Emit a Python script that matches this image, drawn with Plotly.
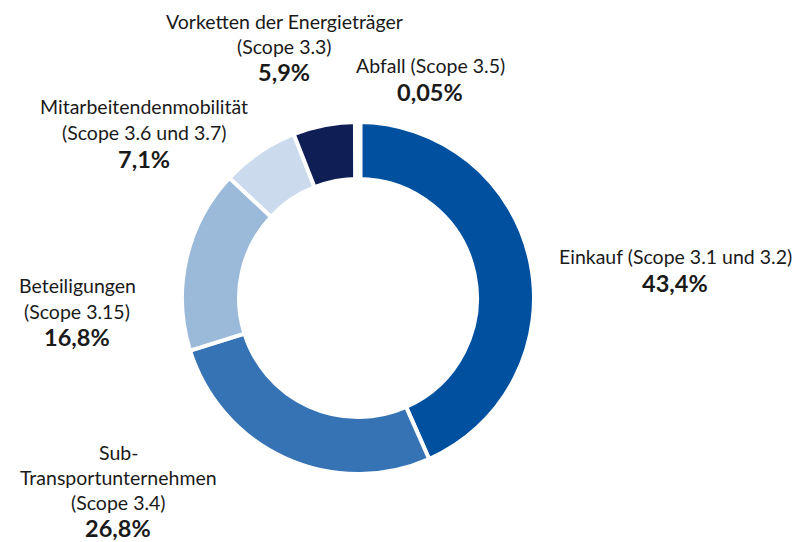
import plotly.graph_objects as go

categories = ["Einkauf", "Sub-Transportunternehmen", "Beteiligungen",
              "Mitarbeitendenmobilität", "Vorketten der Energieträger", "Abfall"]
values = [43.4, 26.8, 16.8, 7.1, 5.9, 0.05]
name_lines = [
    ["Einkauf (Scope 3.1 und 3.2)"],
    ["Sub-", "Transportunternehmen", "(Scope 3.4)"],
    ["Beteiligungen", "(Scope 3.15)"],
    ["Mitarbeitendenmobilität", "(Scope 3.6 und 3.7)"],
    ["Vorketten der Energieträger", "(Scope 3.3)"],
    ["Abfall (Scope 3.5)"],
]
colors = ["#0050a0", "#3573b5", "#9bbad9", "#cbdbed", "#0f1f56", "#6f8fbf"]

W, H = 802, 542
# label block positions (pixel center x, first-line y, line spacing)
label_pos = [
    (675, 256, 27),
    (118, 452, 25.2),
    (77, 285, 26),
    (144, 106, 26.5),
    (284, 21, 25.5),
    (430, 65, 26.5),
]

fig = go.Figure()
fig.add_trace(go.Pie(
    labels=categories,
    values=values,
    sort=False,
    direction="clockwise",
    rotation=0,
    hole=0.676,
    marker=dict(colors=colors, line=dict(color="white", width=[4, 4, 4, 4, 4, 9])),
    textinfo="none",
    hoverinfo="label+percent",
    showlegend=False,
    domain=dict(x=[182 / W, 534 / W], y=[1 - 474 / H, 1 - 122 / H]),
))

annotations = []
for lines, v, (cx, y0, dy) in zip(name_lines, values, label_pos):
    pct = (("%g" % v).replace(".", ",")) + "%"
    all_lines = [(t, False) for t in lines] + [(pct, True)]
    for i, (t, bold) in enumerate(all_lines):
        annotations.append(dict(
            x=cx / W, y=1 - (y0 + i * dy) / H, xref="paper", yref="paper",
            xanchor="center", yanchor="middle", showarrow=False,
            text=("<b>%s</b>" % t) if bold else t,
            font=dict(family="Lato, sans-serif", size=23.5 if bold else 19.5,
                      color="#1a1a1a"),
        ))

fig.update_layout(
    width=W, height=H,
    margin=dict(l=0, r=0, t=0, b=0),
    paper_bgcolor="white", plot_bgcolor="white",
    annotations=annotations,
)
fig.write_html(
    "out.html",
    config={"displayModeBar": False},
    post_script="document.body.style.margin='0';document.body.style.overflow='hidden';",
)
